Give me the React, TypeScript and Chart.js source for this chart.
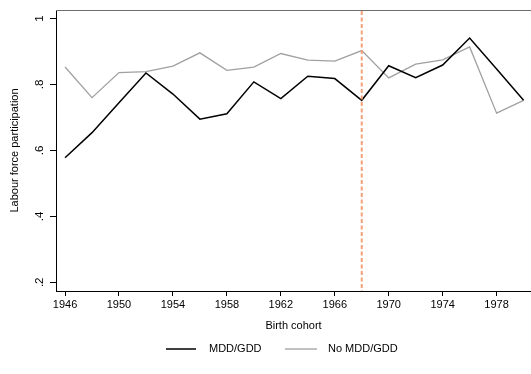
import React, { useEffect, useRef } from "react";
import { Chart, registerables } from "chart.js";

Chart.register(...registerables);

const cohorts = [1946, 1948, 1950, 1952, 1954, 1956, 1958, 1960, 1962, 1964, 1966, 1968, 1970, 1972, 1974, 1976, 1978, 1980];
const mddValues = [0.578, 0.654, 0.745, 0.835, 0.771, 0.695, 0.711, 0.808, 0.757, 0.825, 0.818, 0.752, 0.857, 0.821, 0.859, 0.941, 0.847, 0.752];
const noMddValues = [0.853, 0.760, 0.836, 0.839, 0.856, 0.896, 0.843, 0.853, 0.894, 0.874, 0.871, 0.903, 0.820, 0.862, 0.875, 0.914, 0.713, 0.752];
const xTicks = [1946, 1950, 1954, 1958, 1962, 1966, 1970, 1974, 1978];
const yTicks = [0.2, 0.4, 0.6, 0.8, 1];
const yTickLabels = [".2", ".4", ".6", ".8", "1"];
const cutoffYear = 1968;
const seriesNames = ["MDD/GDD", "No MDD/GDD"];

const FONT = "'Liberation Sans', Arial, sans-serif";

export default function App() {
  const ref = useRef<HTMLCanvasElement | null>(null);

  useEffect(() => {
    const canvas = ref.current;
    if (!canvas) return;

    const overlay = {
      id: "overlay",
      afterDraw(chart: any) {
        const ctx = chart.ctx;
        const area = chart.chartArea;
        const xs = chart.scales.x;
        const ys = chart.scales.y;
        ctx.save();
        // top line
        ctx.strokeStyle = "#6e6e6e";
        ctx.lineWidth = 1;
        ctx.beginPath();
        ctx.moveTo(area.left, area.top + 0.5);
        ctx.lineTo(area.right, area.top + 0.5);
        ctx.stroke();
        // cutoff dashed line
        const cx = xs.getPixelForValue(cutoffYear);
        ctx.strokeStyle = "#f4a078";
        ctx.lineWidth = 2;
        ctx.setLineDash([4, 2.5]);
        ctx.beginPath();
        ctx.moveTo(cx, area.top + 1);
        ctx.lineTo(cx, area.bottom);
        ctx.stroke();
        ctx.setLineDash([]);
        // y tick labels rotated
        ctx.fillStyle = "#000";
        ctx.font = `11.5px ${FONT}`;
        ctx.textAlign = "center";
        ctx.textBaseline = "middle";
        yTicks.forEach((v, i) => {
          const py = ys.getPixelForValue(v);
          ctx.save();
          ctx.translate(39.5, py);
          ctx.rotate(-Math.PI / 2);
          ctx.fillText(yTickLabels[i], 0, 0);
          ctx.restore();
        });
        // y title
        ctx.font = `11px ${FONT}`;
        ctx.save();
        ctx.translate(15, (area.top + area.bottom) / 2);
        ctx.rotate(-Math.PI / 2);
        ctx.fillText("Labour force participation", 0, 0);
        ctx.restore();
        // x title
        ctx.fillText("Birth cohort", (area.left + area.right) / 2, 326);
        // legend
        const ly = 349;
        ctx.textAlign = "left";
        ctx.lineWidth = 1.5;
        ctx.strokeStyle = "#000";
        ctx.beginPath();
        ctx.moveTo(166, ly);
        ctx.lineTo(196, ly);
        ctx.stroke();
        ctx.fillText(seriesNames[0], 209, ly);
        ctx.strokeStyle = "#a0a0a0";
        ctx.lineWidth = 1.3;
        ctx.beginPath();
        ctx.moveTo(285, ly);
        ctx.lineTo(317, ly);
        ctx.stroke();
        ctx.fillText(seriesNames[1], 328, ly);
        ctx.restore();
      },
    };

    const chart = new Chart(canvas, {
      type: "line",
      data: {
        datasets: [
          {
            label: seriesNames[0],
            data: cohorts.map((c, i) => ({ x: c, y: mddValues[i] })),
            borderColor: "#000000",
            borderWidth: 1.5,
            pointRadius: 0,
            tension: 0,
          },
          {
            label: seriesNames[1],
            data: cohorts.map((c, i) => ({ x: c, y: noMddValues[i] })),
            borderColor: "#a0a0a0",
            borderWidth: 1.3,
            pointRadius: 0,
            tension: 0,
          },
        ],
      },
      options: {
        animation: false,
        responsive: false,
        devicePixelRatio: 1,
        layout: { padding: { top: 10, right: 0, left: 0, bottom: 0 } },
        plugins: { legend: { display: false }, tooltip: { enabled: false } },
        scales: {
          x: {
            type: "linear",
            min: 1945.33,
            max: 1980.55,
            afterBuildTicks: (s: any) => {
              s.ticks = xTicks.map((v) => ({ value: v }));
            },
            afterFit: (s: any) => {
              s.height = 83;
            },
            grid: {
              display: true,
              drawOnChartArea: false,
              drawTicks: true,
              tickLength: 5,
              tickColor: "#000",
            },
            border: { color: "#000", width: 1 },
            ticks: {
              color: "#000",
              font: { family: FONT, size: 11 },
              padding: 2,
              maxRotation: 0,
              minRotation: 0,
              autoSkip: false,
              callback: (v: any) => String(v),
            },
          },
          y: {
            type: "linear",
            min: 0.1736,
            max: 1.026,
            afterBuildTicks: (s: any) => {
              s.ticks = yTicks.map((v) => ({ value: v }));
            },
            afterFit: (s: any) => {
              s.width = 56;
            },
            grid: {
              display: true,
              drawOnChartArea: false,
              drawTicks: true,
              tickLength: 6,
              tickColor: "#000",
            },
            border: { color: "#000", width: 1 },
            ticks: {
              color: "#000",
              font: { family: FONT, size: 11 },
              callback: () => "",
            },
          },
        },
      },
      plugins: [overlay],
    } as any);

    return () => chart.destroy();
  }, []);

  return (
    <div style={{ position: "absolute", left: 0, top: 0, width: 531, height: 374, background: "#fff" }}>
      <canvas ref={ref} width={531} height={374} style={{ display: "block" }} />
    </div>
  );
}
